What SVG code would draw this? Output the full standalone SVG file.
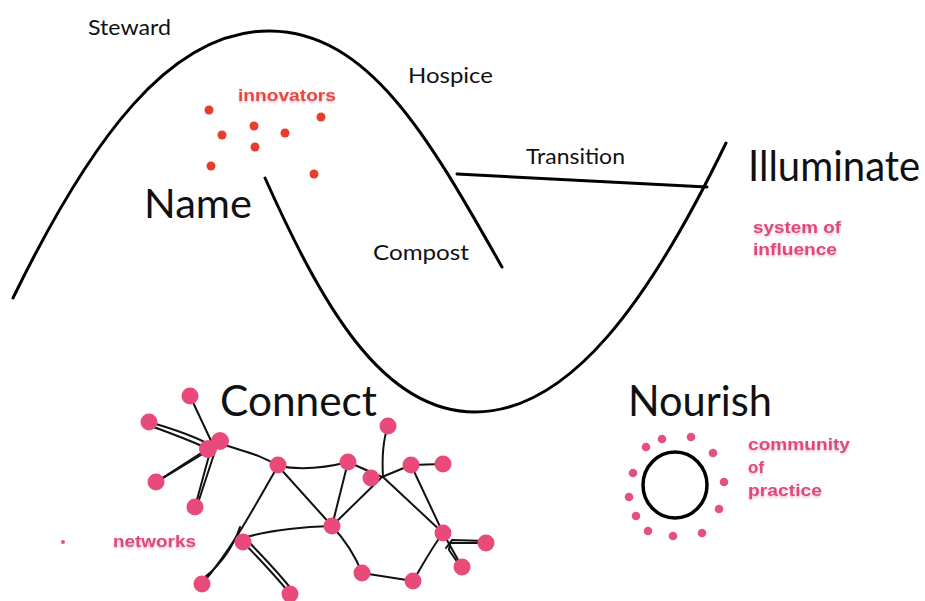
<svg xmlns="http://www.w3.org/2000/svg" width="925" height="601" viewBox="0 0 925 601">
<defs>
<style>
.crv{fill:none;stroke:#000;stroke-width:3;stroke-linecap:round}
.edge{fill:none;stroke:#111;stroke-width:2;stroke-linecap:round;stroke-linejoin:round}
.nd{fill:#e84b7a}
.dot{fill:#e6507f}
.inn{fill:#e83d2c}
.lbl{font-family:Lato,"Liberation Sans",sans-serif;fill:#111}
.big{font-family:Lato,"Liberation Sans",sans-serif;fill:#111}
.pk{font-family:"Liberation Sans",Arial,sans-serif;font-weight:bold;fill:#e0467c;filter:url(#glow)}
.rd{font-family:"Liberation Sans",Arial,sans-serif;font-weight:bold;fill:#e4493a;filter:url(#glow)}
</style>
<filter id="glow" x="-10%" y="-30%" width="120%" height="170%">
<feDropShadow dx="0" dy="1.5" stdDeviation="1" flood-color="#d9a3b3" flood-opacity="0.8"/>
</filter>
</defs>
<rect width="925" height="601" fill="#fff"/>

<g id="curves">
<path class="crv" d="M13,298 C90,140 170,30 270,31 C370,32 430,140 502,267"/>
<path class="crv" d="M265,178 C320,300 380,412 475,412 C570,412 650,300 726,143"/>
<path class="crv" d="M457,174 L707,187"/>
</g>

<g id="labels">
<text class="lbl" x="88" y="35" font-size="22" textLength="83" lengthAdjust="spacingAndGlyphs">Steward</text>
<text class="lbl" x="408" y="83" font-size="22" textLength="85" lengthAdjust="spacingAndGlyphs">Hospice</text>
<text class="lbl" x="526" y="164" font-size="22" textLength="99" lengthAdjust="spacingAndGlyphs">Transition</text>
<text class="lbl" x="373" y="260" font-size="21" textLength="96" lengthAdjust="spacingAndGlyphs">Compost</text>
</g>

<g id="name">
<text class="big" x="144" y="218" font-size="40" textLength="108" lengthAdjust="spacingAndGlyphs">Name</text>
</g>
<g id="innovators">
<text class="rd" x="238" y="101" font-size="17" textLength="98" lengthAdjust="spacingAndGlyphs">innovators</text>
<circle class="inn" cx="209" cy="110" r="4.5"/>
<circle class="inn" cx="222" cy="135" r="4.5"/>
<circle class="inn" cx="254" cy="126" r="4.5"/>
<circle class="inn" cx="255" cy="147" r="4.5"/>
<circle class="inn" cx="285" cy="133" r="4.5"/>
<circle class="inn" cx="321" cy="117" r="4.5"/>
<circle class="inn" cx="211" cy="166" r="4.5"/>
<circle class="inn" cx="314" cy="174" r="4.5"/>
</g>

<g id="illuminate">
<text class="big" transform="translate(748,181) scale(0.955,1)" x="0" y="0" font-size="42">Illuminate</text>
<text class="pk" x="753" y="233" font-size="17" textLength="88" lengthAdjust="spacingAndGlyphs">system of</text>
<text class="pk" x="753" y="255" font-size="17" textLength="84" lengthAdjust="spacingAndGlyphs">influence</text>
</g>

<g id="nourish">
<text class="big" x="628" y="416" font-size="42" textLength="144" lengthAdjust="spacingAndGlyphs">Nourish</text>
<ellipse cx="675" cy="485" rx="32" ry="33" fill="none" stroke="#000" stroke-width="3.5"/>
<circle class="dot" cx="662" cy="439" r="4.3"/>
<circle class="dot" cx="691" cy="437" r="4.3"/>
<circle class="dot" cx="646" cy="447" r="4.3"/>
<circle class="dot" cx="713" cy="453" r="4.3"/>
<circle class="dot" cx="633" cy="473" r="4.3"/>
<circle class="dot" cx="724" cy="482" r="4.3"/>
<circle class="dot" cx="629" cy="497" r="4.3"/>
<circle class="dot" cx="719" cy="509" r="4.3"/>
<circle class="dot" cx="636" cy="516" r="4.3"/>
<circle class="dot" cx="648" cy="531" r="4.3"/>
<circle class="dot" cx="673" cy="536" r="4.3"/>
<circle class="dot" cx="702" cy="533" r="4.3"/>
<text class="pk" x="748" y="450" font-size="17" textLength="102" lengthAdjust="spacingAndGlyphs">community</text>
<text class="pk" x="748" y="473" font-size="17">of</text>
<text class="pk" x="748" y="496" font-size="17" textLength="74" lengthAdjust="spacingAndGlyphs">practice</text>
</g>

<g id="connect">
<text class="big" x="220" y="416" font-size="42" textLength="157" lengthAdjust="spacingAndGlyphs">Connect</text>
<text class="pk" x="113" y="547" font-size="17" textLength="83" lengthAdjust="spacingAndGlyphs">networks</text>
<circle class="dot" cx="63" cy="542" r="2"/>
</g>

<g id="network-edges">
<path class="edge" d="M190,396 L213,445"/>
<path class="edge" d="M149,422 C170,428 195,436 212,446"/>
<path class="edge" d="M151,426 C172,434 195,442 210,450"/>
<path class="edge" d="M156,482 L212,446"/>
<path class="edge" d="M160,480 L206,452"/>
<path class="edge" d="M195,507 L210,452"/>
<path class="edge" d="M198,503 L216,448"/>
<path class="edge" d="M222,444 C245,452 262,455 278,466"/>
<path class="edge" d="M278,466 C300,470 325,468 348,462"/>
<path class="edge" d="M348,462 L382,477"/>
<path class="edge" d="M348,462 L332,526"/>
<path class="edge" d="M382,477 L332,526"/>
<path class="edge" d="M388,426 C383,440 382,460 383,477"/>
<path class="edge" d="M382,477 L411,465 L443,464"/>
<path class="edge" d="M383,477 L443,533"/>
<path class="edge" d="M411,465 L443,533 L462,567"/>
<path class="edge" d="M486,543 L450,543 L449,550 L460,566"/>
<path class="edge" d="M486,541 L452,540 L446,548"/>
<path class="edge" d="M443,533 C430,550 420,570 413,581"/>
<path class="edge" d="M413,581 L362,573"/>
<path class="edge" d="M362,573 C355,555 345,540 332,526"/>
<path class="edge" d="M278,466 L332,526"/>
<path class="edge" d="M243,538 C270,530 300,527 332,526"/>
<path class="edge" d="M278,466 C255,505 235,545 202,584"/>
<path class="edge" d="M240,527 C232,550 220,565 205,577"/>
<path class="edge" d="M243,542 C260,560 275,575 290,594"/>
<path class="edge" d="M247,540 C264,558 279,573 292,590"/>
</g>

<g id="network-nodes">
<circle class="nd" cx="190" cy="396" r="8.5"/>
<circle class="nd" cx="149" cy="422" r="8.5"/>
<circle class="nd" cx="208" cy="449" r="9"/>
<circle class="nd" cx="220" cy="441" r="9"/>
<circle class="nd" cx="156" cy="482" r="8.5"/>
<circle class="nd" cx="195" cy="507" r="8.5"/>
<circle class="nd" cx="278" cy="465" r="8.5"/>
<circle class="nd" cx="348" cy="462" r="8.5"/>
<circle class="nd" cx="388" cy="426" r="8.5"/>
<circle class="nd" cx="371" cy="478" r="8.5"/>
<circle class="nd" cx="411" cy="465" r="8.5"/>
<circle class="nd" cx="443" cy="464" r="8.5"/>
<circle class="nd" cx="332" cy="526" r="8.5"/>
<circle class="nd" cx="243" cy="542" r="8.5"/>
<circle class="nd" cx="443" cy="533" r="8.5"/>
<circle class="nd" cx="486" cy="543" r="8.5"/>
<circle class="nd" cx="462" cy="567" r="8.5"/>
<circle class="nd" cx="413" cy="581" r="8.5"/>
<circle class="nd" cx="362" cy="573" r="8.5"/>
<circle class="nd" cx="202" cy="584" r="8.5"/>
<circle class="nd" cx="290" cy="594" r="8.5"/>
</g>
</svg>
